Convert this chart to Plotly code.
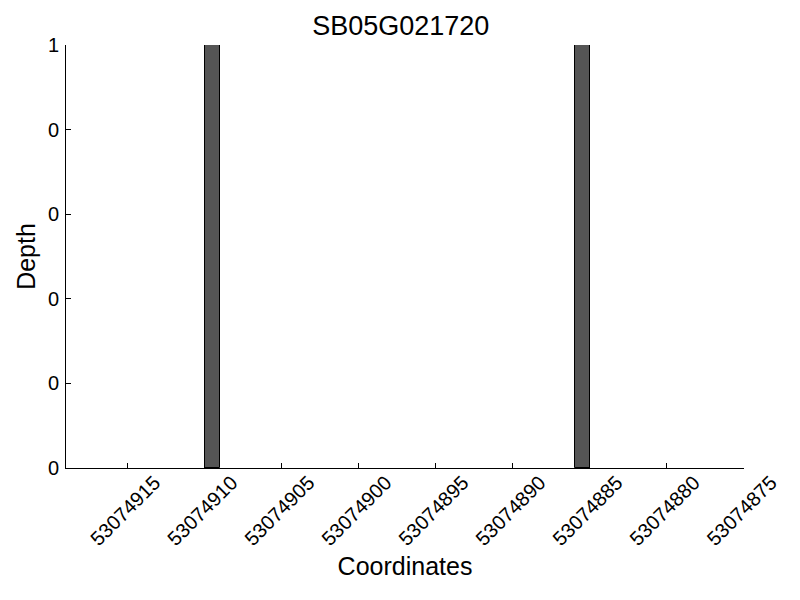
import plotly.graph_objects as go

# Depth per position (bars start at the listed coordinate, 1 bp wide)
coordinates = [53074909, 53074885]
depth = [1, 1]

x_ticks = [53074915, 53074910, 53074905, 53074900, 53074895,
           53074890, 53074885, 53074880, 53074875]
y_ticks = [0, 0.2, 0.4, 0.6, 0.8, 1.0]
y_tick_labels = ["0", "0", "0", "0", "0", "1"]

gene = "SB05G021720"

fig = go.Figure()
fig.add_trace(go.Bar(
    x=coordinates,
    y=depth,
    width=1,
    offset=0,
    marker=dict(color="#555555", line=dict(color="black", width=1)),
))

# page body adds an 8px offset, margins compensate for it
fig.update_layout(
    title=dict(text=gene, x=0.491, y=0.97, xanchor="center", yanchor="middle",
               font=dict(size=27, color="black")),
    font=dict(family="Liberation Sans, Arial, sans-serif", color="black"),
    width=800,
    height=600,
    plot_bgcolor="white",
    paper_bgcolor="white",
    showlegend=False,
    margin=dict(l=58, r=64, t=37, b=140),
    bargap=0,
)

fig.update_xaxes(
    range=[53074919, 53074875],
    tickvals=x_ticks,
    ticktext=[str(v) for v in x_ticks],
    tickangle=-45,
    ticks="inside",
    ticklen=5,
    tickcolor="black",
    tickfont=dict(size=20),
    ticklabelshift=-27,
    ticklabelstandoff=-6,
    showline=True,
    linecolor="black",
    linewidth=1,
    showgrid=False,
    zeroline=False,
    title=dict(text="Coordinates", font=dict(size=25), standoff=8),
)

fig.update_yaxes(
    range=[0, 1],
    tickvals=y_ticks,
    ticktext=y_tick_labels,
    ticks="inside",
    ticklen=5,
    tickcolor="black",
    tickfont=dict(size=20),
    ticklabelstandoff=2,
    showline=True,
    linecolor="black",
    linewidth=1,
    showgrid=False,
    zeroline=False,
    title=dict(text="Depth", font=dict(size=25), standoff=5),
)

fig.write_html("out.html")
